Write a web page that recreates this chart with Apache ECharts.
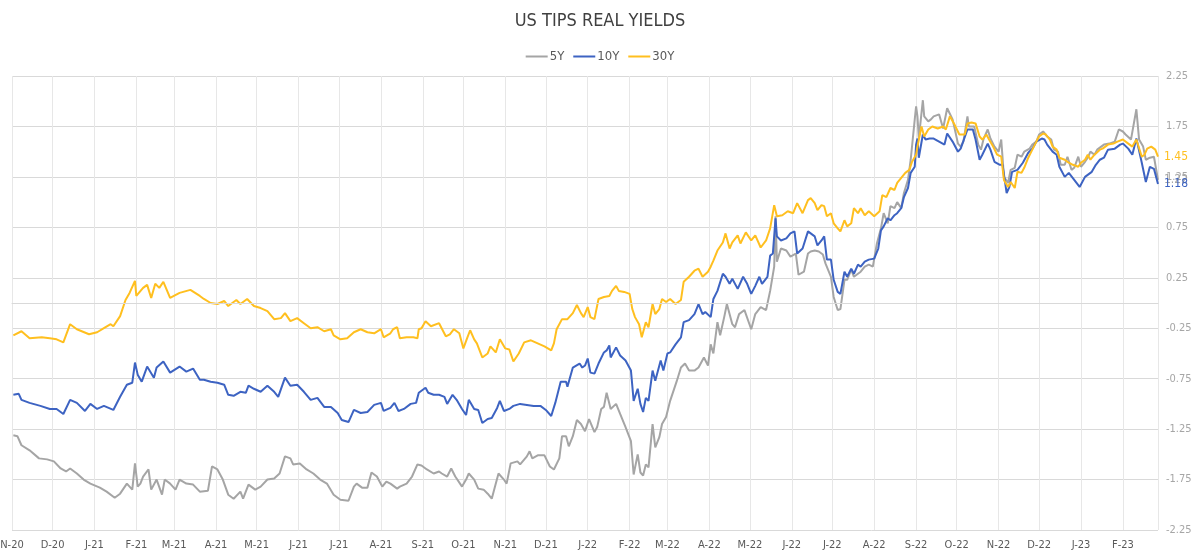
<!DOCTYPE html>
<html>
<head>
<meta charset="utf-8">
<title>US TIPS Real Yields</title>
<script src="https://cdn.jsdelivr.net/npm/echarts@6/dist/echarts.min.js"></script>
<style>
  html, body { margin: 0; padding: 0; background: #fff; }
  #container { width: 1200px; height: 558px; }
</style>
</head>
<body>
<div id="container"></div>
<script>
// readings as [days after 1 Nov 2020, yield %]
var origin = [2020, 10, 1];

var tips5y = [
  [1,-1.31],[4,-1.32],[7,-1.41],[13,-1.46],[20,-1.54],[26,-1.55],[31,-1.57],[36,-1.64],[40,-1.67],[43,-1.64],
  [48,-1.69],[53,-1.75],[58,-1.79],[65,-1.83],[70,-1.87],[76,-1.93],[80,-1.89],[85,-1.79],[89,-1.85],[91,-1.59],
  [93,-1.82],[95,-1.79],[97,-1.72],[101,-1.65],[103,-1.85],[107,-1.75],[111,-1.90],[113,-1.75],[117,-1.79],[121,-1.85],
  [124,-1.75],[129,-1.79],[134,-1.80],[139,-1.87],[145,-1.86],[148,-1.62],[152,-1.65],[156,-1.75],[160,-1.90],[164,-1.94],
  [169,-1.87],[171,-1.94],[175,-1.80],[180,-1.85],[184,-1.82],[189,-1.75],[194,-1.74],[198,-1.69],[202,-1.52],[206,-1.54],
  [208,-1.60],[213,-1.59],[218,-1.65],[223,-1.69],[228,-1.75],[233,-1.79],[238,-1.90],[243,-1.95],[249,-1.96],[253,-1.82],
  [255,-1.79],[259,-1.83],[263,-1.83],[266,-1.68],[270,-1.72],[274,-1.82],[277,-1.77],[280,-1.79],[285,-1.84],[287,-1.82],
  [292,-1.79],[296,-1.72],[300,-1.60],[303,-1.61],[307,-1.65],[312,-1.69],[316,-1.67],[318,-1.69],[322,-1.72],[325,-1.64],
  [328,-1.72],[333,-1.82],[336,-1.75],[338,-1.69],[342,-1.75],[345,-1.84],[349,-1.85],[352,-1.89],[355,-1.94],[358,-1.79],
  [360,-1.69],[364,-1.75],[366,-1.79],[369,-1.59],[374,-1.57],[376,-1.60],[381,-1.52],[383,-1.47],[385,-1.54],[389,-1.51],
  [394,-1.51],[398,-1.62],[401,-1.65],[405,-1.54],[407,-1.32],[410,-1.32],[412,-1.42],[415,-1.32],[418,-1.16],[421,-1.20],
  [424,-1.27],[427,-1.15],[431,-1.28],[433,-1.23],[436,-1.05],[438,-1.03],[440,-0.89],[443,-1.05],[447,-1.00],[450,-1.10],
  [454,-1.23],[458,-1.37],[460,-1.70],[463,-1.50],[465,-1.68],[467,-1.71],[469,-1.60],[471,-1.63],[474,-1.20],[476,-1.43],
  [479,-1.33],[481,-1.20],[484,-1.13],[487,-0.97],[492,-0.77],[495,-0.64],[498,-0.60],[501,-0.67],[505,-0.67],[508,-0.64],
  [512,-0.54],[515,-0.62],[517,-0.41],[519,-0.50],[522,-0.19],[524,-0.32],[527,-0.14],[529,-0.01],[533,-0.21],[535,-0.24],
  [538,-0.11],[542,-0.07],[547,-0.26],[550,-0.11],[554,-0.04],[558,-0.07],[561,0.12],[564,0.36],[565,0.86],[566,0.41],
  [569,0.54],[573,0.52],[576,0.46],[580,0.49],[582,0.28],[586,0.31],[589,0.49],[591,0.51],[594,0.52],[597,0.51],
  [600,0.48],[602,0.39],[606,0.26],[608,0.06],[611,-0.07],[613,-0.06],[616,0.23],[618,0.23],[621,0.33],[623,0.26],
  [626,0.29],[628,0.31],[631,0.36],[634,0.38],[637,0.36],[640,0.59],[643,0.74],[645,0.89],[648,0.79],[650,0.96],
  [653,0.94],[655,1.00],[658,0.94],[660,1.09],[663,1.22],[665,1.42],[668,1.82],[669,1.95],[670,1.85],[671,1.63],
  [674,2.01],[675,1.85],[678,1.80],[680,1.82],[682,1.85],[686,1.87],[689,1.73],[692,1.93],[696,1.82],[700,1.58],
  [702,1.55],[704,1.60],[707,1.85],[708,1.75],[712,1.75],[715,1.57],[717,1.52],[719,1.63],[722,1.72],[724,1.63],
  [727,1.55],[730,1.50],[732,1.62],[734,1.25],[737,1.19],[739,1.32],[742,1.34],[744,1.47],[747,1.45],[749,1.50],
  [753,1.53],[755,1.57],[758,1.60],[760,1.67],[763,1.70],[766,1.65],[769,1.62],[771,1.52],[774,1.50],[776,1.37],
  [779,1.37],[781,1.45],[784,1.32],[786,1.34],[789,1.45],[791,1.35],[794,1.40],[796,1.44],[798,1.50],[801,1.47],
  [803,1.52],[806,1.55],[808,1.57],[812,1.58],[816,1.60],[819,1.72],[822,1.70],[824,1.67],[828,1.62],[832,1.92],
  [834,1.62],[837,1.55],[839,1.42],[842,1.44],[845,1.45],[848,1.22]
];

var tips10y = [
  [1,-0.91],[5,-0.90],[7,-0.96],[13,-0.99],[21,-1.02],[28,-1.05],[33,-1.05],[38,-1.10],[43,-0.96],[48,-0.99],
  [54,-1.07],[58,-1.00],[63,-1.05],[68,-1.02],[75,-1.06],[80,-0.93],[85,-0.81],[89,-0.79],[91,-0.59],[93,-0.71],
  [96,-0.78],[100,-0.63],[105,-0.74],[107,-0.64],[112,-0.58],[117,-0.69],[124,-0.63],[129,-0.68],[134,-0.65],[139,-0.76],
  [142,-0.76],[147,-0.78],[152,-0.79],[157,-0.81],[160,-0.91],[164,-0.92],[169,-0.88],[173,-0.89],[175,-0.82],[179,-0.85],
  [184,-0.88],[189,-0.82],[194,-0.88],[197,-0.93],[202,-0.74],[206,-0.82],[211,-0.81],[216,-0.88],[221,-0.96],[226,-0.94],
  [231,-1.03],[236,-1.03],[241,-1.09],[244,-1.16],[249,-1.18],[253,-1.06],[258,-1.09],[263,-1.08],[268,-1.01],[273,-0.99],
  [275,-1.07],[280,-1.04],[283,-0.99],[286,-1.07],[290,-1.05],[295,-1.00],[299,-0.99],[301,-0.89],[306,-0.84],[308,-0.89],
  [312,-0.91],[316,-0.91],[320,-0.93],[322,-1.00],[326,-0.91],[329,-0.96],[333,-1.05],[336,-1.11],[338,-0.96],[342,-1.05],
  [345,-1.06],[348,-1.19],[352,-1.15],[355,-1.14],[359,-1.04],[361,-0.97],[364,-1.07],[368,-1.05],[371,-1.02],[376,-1.00],
  [381,-1.01],[386,-1.02],[391,-1.02],[395,-1.06],[399,-1.12],[402,-0.99],[406,-0.78],[410,-0.78],[411,-0.83],[415,-0.64],
  [420,-0.60],[422,-0.64],[424,-0.62],[426,-0.55],[428,-0.69],[431,-0.70],[434,-0.60],[438,-0.49],[440,-0.47],[442,-0.42],
  [443,-0.54],[447,-0.44],[450,-0.52],[454,-0.57],[458,-0.67],[460,-0.97],[463,-0.85],[465,-1.00],[467,-1.08],[469,-0.94],
  [471,-0.97],[474,-0.67],[476,-0.77],[480,-0.57],[482,-0.67],[485,-0.50],[487,-0.49],[491,-0.41],[495,-0.34],[497,-0.19],
  [501,-0.17],[505,-0.11],[508,-0.01],[511,-0.11],[513,-0.09],[517,-0.14],[519,0.04],[522,0.12],[526,0.29],[528,0.26],
  [531,0.19],[533,0.24],[537,0.14],[541,0.26],[544,0.19],[547,0.09],[550,0.17],[553,0.26],[555,0.19],[559,0.26],
  [561,0.47],[563,0.49],[565,0.84],[566,0.66],[569,0.62],[573,0.64],[576,0.69],[579,0.71],[581,0.49],[585,0.54],
  [589,0.71],[591,0.69],[594,0.66],[596,0.57],[599,0.62],[601,0.66],[603,0.43],[606,0.43],[608,0.23],[611,0.11],
  [613,0.09],[616,0.31],[618,0.26],[621,0.34],[623,0.29],[626,0.38],[628,0.36],[631,0.41],[634,0.43],[638,0.44],
  [641,0.54],[643,0.72],[645,0.76],[648,0.84],[650,0.82],[653,0.87],[655,0.89],[658,0.94],[660,1.05],[663,1.14],
  [665,1.29],[668,1.35],[669,1.57],[670,1.63],[671,1.44],[674,1.67],[676,1.62],[679,1.63],[682,1.63],[686,1.60],
  [690,1.57],[692,1.68],[696,1.60],[700,1.50],[702,1.53],[707,1.72],[711,1.72],[713,1.62],[716,1.42],[718,1.47],
  [722,1.58],[724,1.52],[727,1.40],[731,1.37],[733,1.37],[736,1.09],[738,1.15],[740,1.30],[744,1.32],[748,1.39],
  [752,1.49],[755,1.53],[758,1.60],[762,1.63],[764,1.62],[766,1.57],[770,1.50],[773,1.47],[775,1.35],[779,1.25],
  [782,1.29],[786,1.22],[790,1.15],[794,1.25],[799,1.30],[802,1.37],[805,1.42],[808,1.44],[811,1.52],[816,1.53],
  [820,1.57],[822,1.58],[826,1.53],[829,1.47],[832,1.63],[836,1.39],[839,1.20],[842,1.35],[845,1.33],[848,1.18]
];

var tips30y = [
  [1,-0.32],[7,-0.28],[13,-0.35],[22,-0.34],[28,-0.35],[33,-0.36],[38,-0.39],[43,-0.21],[48,-0.26],[57,-0.31],
  [63,-0.29],[68,-0.25],[73,-0.21],[75,-0.23],[80,-0.13],[84,0.03],[87,0.10],[91,0.22],[92,0.07],[97,0.15],
  [100,0.18],[103,0.05],[106,0.19],[109,0.15],[112,0.21],[117,0.05],[124,0.10],[132,0.13],[139,0.07],[142,0.04],
  [147,0.00],[152,-0.01],[157,0.02],[160,-0.03],[166,0.03],[169,-0.01],[174,0.04],[179,-0.03],[184,-0.05],[189,-0.08],
  [194,-0.16],[199,-0.15],[202,-0.10],[206,-0.18],[211,-0.15],[216,-0.20],[221,-0.25],[226,-0.24],[231,-0.28],[236,-0.26],
  [238,-0.32],[243,-0.36],[248,-0.35],[253,-0.29],[258,-0.26],[263,-0.29],[268,-0.30],[273,-0.26],[275,-0.34],[280,-0.30],
  [282,-0.26],[285,-0.24],[287,-0.35],[292,-0.34],[297,-0.34],[300,-0.35],[301,-0.26],[303,-0.25],[306,-0.18],[310,-0.23],
  [316,-0.20],[321,-0.33],[324,-0.31],[327,-0.26],[331,-0.30],[334,-0.45],[337,-0.34],[339,-0.27],[342,-0.36],[344,-0.40],
  [348,-0.54],[352,-0.50],[354,-0.43],[358,-0.49],[361,-0.36],[365,-0.45],[368,-0.46],[371,-0.58],[375,-0.50],[379,-0.39],
  [384,-0.37],[389,-0.40],[394,-0.43],[399,-0.47],[401,-0.40],[403,-0.26],[407,-0.16],[411,-0.16],[415,-0.10],[418,-0.02],
  [421,-0.10],[423,-0.14],[426,-0.04],[428,-0.14],[431,-0.16],[434,0.04],[438,0.06],[442,0.07],[444,0.12],[447,0.17],
  [449,0.12],[453,0.11],[457,0.09],[459,-0.06],[461,-0.14],[464,-0.21],[466,-0.34],[469,-0.19],[471,-0.24],[474,-0.01],
  [476,-0.11],[479,-0.06],[481,0.04],[484,0.01],[487,0.04],[491,-0.01],[495,0.03],[497,0.21],[501,0.26],[505,0.32],
  [508,0.34],[511,0.26],[515,0.31],[517,0.36],[519,0.42],[522,0.52],[526,0.60],[528,0.69],[531,0.54],[533,0.60],
  [537,0.67],[539,0.59],[543,0.70],[547,0.62],[550,0.67],[554,0.55],[558,0.62],[561,0.74],[564,0.97],[566,0.86],
  [570,0.87],[574,0.91],[578,0.89],[581,0.99],[585,0.89],[589,1.02],[591,1.04],[594,0.99],[596,0.92],[599,0.97],
  [601,0.96],[603,0.86],[606,0.89],[608,0.79],[611,0.74],[613,0.71],[616,0.82],[618,0.76],[621,0.79],[623,0.94],
  [626,0.89],[628,0.94],[631,0.87],[634,0.91],[638,0.86],[642,0.91],[644,1.07],[647,1.05],[650,1.14],[653,1.12],
  [655,1.19],[658,1.24],[661,1.29],[664,1.32],[666,1.40],[669,1.47],[670,1.55],[673,1.75],[675,1.65],[678,1.72],
  [681,1.75],[685,1.73],[689,1.75],[691,1.72],[694,1.85],[697,1.78],[701,1.67],[705,1.67],[707,1.78],[710,1.79],
  [713,1.78],[716,1.65],[718,1.62],[721,1.67],[723,1.62],[726,1.55],[729,1.47],[732,1.45],[734,1.22],[737,1.15],
  [739,1.20],[742,1.14],[744,1.30],[747,1.29],[749,1.34],[752,1.44],[755,1.52],[758,1.60],[760,1.65],[763,1.68],
  [765,1.67],[768,1.62],[770,1.55],[773,1.52],[775,1.44],[779,1.42],[781,1.40],[785,1.37],[789,1.35],[791,1.39],
  [794,1.42],[796,1.47],[798,1.42],[801,1.47],[805,1.52],[807,1.53],[811,1.57],[815,1.58],[818,1.60],[822,1.62],
  [826,1.58],[829,1.55],[832,1.62],[836,1.45],[838,1.47],[840,1.53],[843,1.55],[846,1.52],[848,1.45]
];

var seriesNames = ['5Y', '10Y', '30Y'];
var seriesColors = ['#a5a5a5', '#3d63c2', '#ffbf1f'];
var monthLetters = ['J', 'F', 'M', 'A', 'M', 'J', 'J', 'A', 'S', 'O', 'N', 'D'];
var yTicks = [-2.25, 2.25, 0.5]; // min, max, step

var DAY = 24 * 3600 * 1000;
var fontFam = 'Liberation Sans Narrow, DejaVu Sans Condensed, sans-serif';

function toDated(points) {
  var out = [];
  for (var i = 0; i < points.length; i++) {
    var d = new Date(origin[0], origin[1], origin[2] + points[i][0]);
    out.push([d.getTime(), points[i][1]]);
  }
  return out;
}

function makeSeries(name, color, points, extra) {
  var s = {
    name: name,
    type: 'line',
    data: toDated(points),
    symbol: 'none',
    lineStyle: { width: 2, color: color },
    itemStyle: { color: color },
    endLabel: {
      show: true,
      distance: 6,
      color: color,
      fontSize: 12,
      fontFamily: fontFam,
      formatter: function (p) { return p.value[1].toFixed(2); }
    }
  };
  if (extra) {
    for (var k in extra) s[k] = extra[k];
  }
  return s;
}

var dom = document.getElementById('container');
var myChart = echarts.init(dom, null, { renderer: 'canvas' });

var option = {
  animation: false,
  backgroundColor: '#ffffff',
  title: {
    text: 'US TIPS REAL YIELDS',
    left: 'center',
    top: 7,
    textStyle: { fontSize: 18, fontWeight: 'normal', color: '#404040', fontFamily: fontFam }
  },
  legend: {
    data: seriesNames,
    top: 45,
    left: 'center',
    icon: 'rect',
    itemWidth: 22,
    itemHeight: 2,
    itemGap: 9,
    textStyle: { fontSize: 13, color: '#595959', fontFamily: fontFam, padding: [0, 0, 0, -3] }
  },
  grid: {
    left: 12,
    right: 42,
    top: 76,
    bottom: 28,
    outerBoundsMode: 'none'
  },
  xAxis: {
    type: 'time',
    min: new Date(2020, 10, 1).getTime(),
    max: new Date(2023, 1, 27).getTime(),
    minInterval: 28 * DAY,
    maxInterval: 31 * DAY,
    axisLine: { show: true, lineStyle: { color: '#d9d9d9' } },
    axisTick: { show: false },
    splitLine: { show: true, lineStyle: { color: '#e7e7e7', width: 1 } },
    axisLabel: {
      color: '#595959',
      fontSize: 11,
      fontFamily: fontFam,
      margin: 10,
      showMaxLabel: false,
      formatter: function (value) {
        var d = new Date(value);
        return monthLetters[d.getMonth()] + '-' + String(d.getFullYear()).slice(2);
      }
    }
  },
  yAxis: {
    type: 'value',
    position: 'right',
    min: yTicks[0],
    max: yTicks[1],
    interval: yTicks[2],
    axisLine: { show: false },
    axisTick: { show: false },
    splitLine: { lineStyle: { color: '#d9d9d9', width: 1 } },
    axisLabel: {
      color: '#a6a6a6',
      fontSize: 11,
      fontFamily: fontFam,
      margin: 8,
      formatter: function (v) { return v.toFixed(2); }
    }
  },
  series: [
    makeSeries(seriesNames[0], seriesColors[0], tips5y, {
      markLine: {
        silent: true,
        symbol: ['none', 'none'],
        label: { show: false },
        lineStyle: { color: '#d9d9d9', width: 1, type: 'solid' },
        data: [{ yAxis: 0 }]
      }
    }),
    makeSeries(seriesNames[1], seriesColors[1], tips10y),
    makeSeries(seriesNames[2], seriesColors[2], tips30y)
  ]
};

myChart.setOption(option);
</script>
</body>
</html>
